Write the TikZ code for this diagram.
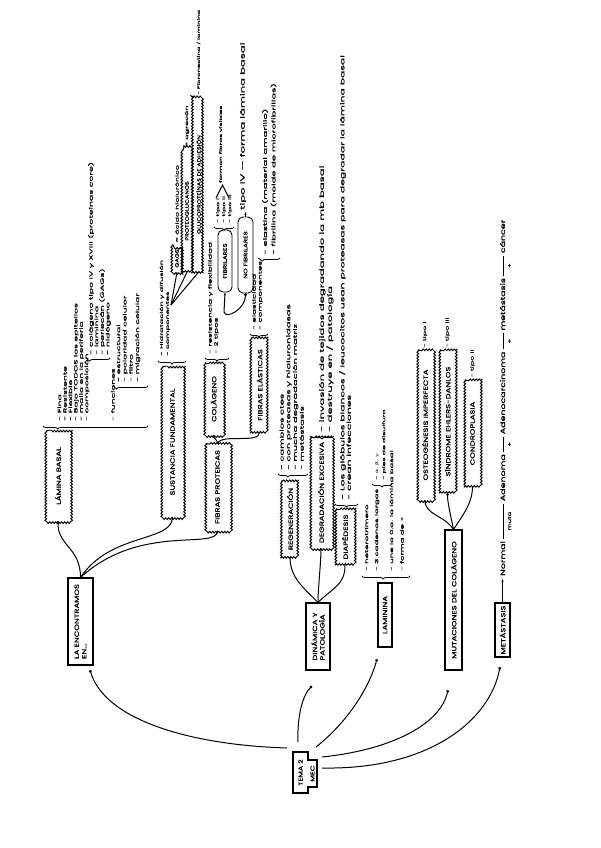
\documentclass[tikz,border=0pt]{standalone}
\usepackage{fontspec}
\setmainfont{Poppins}
\newfontfamily\hand[FakeStretch=2.0,FakeBold=1.2]{Poppins}
\newfontfamily\handb[FakeStretch=1.5,FakeBold=1.2]{Poppins}
\newfontfamily\capsf[FakeStretch=1.4,FakeBold=1.5]{Poppins}
\newfontfamily\grk[FakeStretch=1.6]{DejaVu Sans}
\usetikzlibrary{decorations.pathmorphing,decorations.pathreplacing,arrows.meta,calc}
\newcommand{\lbar}[2]{\ensuremath{\mathop{\rule[0.3em]{#1}{0.6pt}}\limits_{\mbox{\handb\fontsize{4.5}{4.5}\selectfont #2}}}}
\newcommand{\wv}[1]{\draw[wavy] (#1.north east) rectangle (#1.south west);}
\newcommand{\fs}[2]{\hand\fontsize{#1}{#2}\selectfont}
\begin{document}
\begin{tikzpicture}[x=1pt,y=-1pt,
  every node/.style={inner sep=0pt},
  txt/.style={rotate=90, anchor=north west, align=left, inner sep=0pt, font=\fs{4.6}{5.4}},
  cld/.style={rotate=90, inner sep=1pt, align=center, font=\capsf\fontsize{6}{6.5}\selectfont},
  smallcld/.style={cld, font=\capsf\fontsize{4.6}{5}\selectfont},
  wavy/.style={line width=0.9pt, decorate, decoration={snake, segment length=3pt, amplitude=0.9pt}},
  bx/.style={rotate=90, draw, line width=1.1pt, inner sep=1.5pt, align=left, font=\capsf\fontsize{6}{7.5}\selectfont},
  rbx/.style={rotate=90, draw, line width=0.9pt, rounded corners=5pt, inner sep=1pt, font=\capsf\fontsize{5}{5}\selectfont},
  link/.style={line width=1pt},
  dot/.style={-{Circle[length=2.8pt]}},
  arr/.style={-{Stealth[length=3pt]}},
  brc/.style={decorate, decoration={brace, amplitude=3pt, mirror, aspect=#1}, line width=0.8pt},
  brc/.default=0.5]
\fill[white] (0,0) rectangle (601,848);
\useasboundingbox (0,0) rectangle (601,848);

% ---- central node
\node[rotate=90, font=\capsf\fontsize{5.5}{6}\selectfont] (tema) at (300.5,772.5) {TEMA 2};
\node[rotate=90, font=\capsf\fontsize{5.5}{6}\selectfont] (mec) at (312.5,773.5) {MEC};
\draw[line width=1.1pt] (293,752) -- (308,752) -- (308,760) -- (317,760) -- (317,787) -- (308,787) -- (308,793) -- (293,793) -- cycle;

% ---- main boxes
\node[bx, minimum width=87pt, minimum height=25pt] (LAENC) at (80.5,621.5) {LA ENCONTRAMOS\\EN...};
\node[bx, minimum width=67pt, minimum height=24pt] (DIN) at (318,636.5) {DINÁMICA Y\\PATOLOGÍA};
\node[bx, minimum width=64pt, minimum height=14pt] (LAM) at (385,615) {LAMININA};
\node[bx, minimum width=140pt, minimum height=17pt] (MUT) at (453.5,600) {MUTACIONES DEL COLÁGENO};
\node[bx, minimum width=54pt, minimum height=15pt] (MET) at (502.5,630) {METÁSTASIS};

% ---- connectors from TEMA
\coordinate (s1) at (287,748); \coordinate (e1) at (90,670);
\coordinate (s2) at (298,742); \coordinate (e2) at (312,686);
\coordinate (s3) at (316,747); \coordinate (e3) at (377,659);
\coordinate (s4) at (322,757); \coordinate (e4) at (448,690);
\coordinate (s5) at (322,768); \coordinate (e5) at (500,667);
\draw[link,dot] (s1) .. controls (190,745) and (105,720) .. (e1);
\draw[link,dot] (s2) .. controls (297,715) and (303,695) .. (e2);
\draw[link,dot] (s3) .. controls (350,720) and (370,685) .. (e3);
\draw[link,dot] (s4) .. controls (390,750) and (440,725) .. (e4);
\draw[link,dot] (s5) .. controls (430,770) and (490,720) .. (e5);

% ---- LA ENCONTRAMOS EN branch
\node[cld, minimum width=90pt, minimum height=24pt] (LB) at (58,476) {LÁMINA BASAL}; \wv{LB}
\node[cld, minimum width=150pt, minimum height=21pt] (SF) at (172.5,442) {SUSTANCIA FUNDAMENTAL}; \wv{SF}
\node[cld, minimum width=87pt, minimum height=23pt] (FP) at (217.5,487) {FIBRAS PROTEICAS}; \wv{FP}
\draw[link,dot] (LAENC.east) .. controls +(0,-30) and +(0,25) .. (LB.west);
\draw[link] (LAENC.east) .. controls +(30,-45) and +(0,25) .. (SF.west);
\draw[link] (LAENC.east) .. controls +(60,-55) and +(0,20) .. (FP.west);

% lamina basal list
\draw[brc=0.14] (43,426) -- (148,426);
\node[txt] (lbl1) at (57.5,421) {- Fina\\- Resistente\\- Flexible\\- Bajo TODOS los epitelios\\- malla en la periferia\\- composición};
\draw[brc=0.15] (86,358) -- (110,358);
\node[txt, font=\fs{4.7}{5.6}] (lbl2) at (88,355) {- colágeno tipo IV y XVIII (proteínas core)\\- laminina\\- perlecán (GAGs)\\- nidógeno};
\node[txt] (lbl3) at (111,421) {- funciones};
\draw[brc=0.1] (113,386) -- (148,386);
\node[txt, font=\fs{4.6}{6.3}] (lbl4) at (116.5,382) {- estructural\\- polaridad celular\\- filtro\\- migración celular};

% sustancia fundamental
\draw[brc] (158,361) -- (186,361);
\node[txt, font=\fs{4.1}{6}] (sfl) at (159.5,356) {- Hidratación y difusión\\- componentes};
\node[smallcld, minimum width=27pt, minimum height=10pt] (GAG) at (177,258.5) {GAGS}; \wv{GAG}
\node[smallcld, minimum width=122pt, minimum height=10pt] (PRO) at (187,211) {PROTEOGLUCANOS}; \wv{PRO}
\node[smallcld, minimum width=175pt, minimum height=12pt] (GLU) at (198.5,184.5) {GLUCOPROTEÍNAS DE ADHESIÓN}; \wv{GLU}
\coordinate (sfc) at (171,305);
\draw[link] (sfc) -- (GAG.west);
\draw[link] (sfc) -- (PRO.west);
\draw[link] (sfc) -- (GLU.west);
\node[txt, anchor=west, font=\fs{4}{5}] (gagt) at ($(GAG.east)+(0,-2)$) {= ácido hialurónico};
\node[txt, anchor=west, font=\fs{4}{5}] (prot) at ($(PRO.east)+(0,-2)$) {= agrecán};
\node[txt, anchor=west, font=\fs{3.4}{4}] (glut) at ($(GLU.east)+(0,-2)$) {- Fibronectina / laminina};

% fibras proteicas
\node[cld, minimum width=72pt, minimum height=17pt] (COL) at (213.5,399) {COLÁGENO}; \wv{COL}
\node[cld, minimum width=94pt, minimum height=17pt] (FE) at (259.5,385) {FIBRAS ELÁSTICAS}; \wv{FE}
\draw[link] (FP.east) .. controls +(0,-4) and +(0,4) .. (COL.west);
\draw[link] (FP.east) .. controls +(5,-10) and +(0,12) .. (FE.west);

% colageno
\draw[brc] (205,358) -- (229,358);
\node[txt, font=\fs{4.4}{6}] (coll) at (208,354) {- resistencia y flexibilidad\\- 2 tipos};
\node[rbx, minimum width=62pt, minimum height=14pt] (FIB) at (225,261) {FIBRILARES};
\node[rbx, minimum width=76pt, minimum height=15pt] (NOFIB) at (245.5,255) {NO FIBRILARES};
\coordinate (c2) at (224,312);
\draw[link,arr] (c2) -- (FIB.west);
\draw[link,dot] (c2) .. controls +(2,8) and +(0,15) .. (NOFIB.west);
\draw[brc] (214,227) -- (234,227);
\node[txt, font=\fs{3.8}{6}] (fibl) at (216,223) {- tipo I\\- tipo II\\- tipo III};
\coordinate (v1) at (216,198); \coordinate (v2) at (222.5,185); \coordinate (v3) at (229,198);
\draw[link] (v1) -- (v2) -- (v3);
\node[txt, font=\fs{3.6}{5}] (fibv) at (219,183) {forman fibras visibles};
\coordinate (nf1) at (245.5,212);
\draw[link,arr] (NOFIB.east) -- (nf1);
\node[txt, anchor=west, font=\fs{5.8}{6}] (nfl) at (243,210) {tipo IV — forma lámina basal};

% fibras elasticas
\draw[brc] (250,334) -- (268,334);
\node[txt, font=\fs{4.4}{6}] (fel) at (252,330) {- elasticidad\\- componentes};
\draw[brc=0.2] (258,258) -- (280,258);
\node[txt, font=\fs{5}{8.5}] (fel2) at (262,255) {- elastina (material amarillo)\\- fibrilina (molde de microfibrillas)};

% ---- dinamica y patologia
\node[cld, minimum width=76pt, minimum height=17pt] (REG) at (290,519) {REGENERACIÓN}; \wv{REG}
\node[cld, minimum width=111pt, minimum height=20pt] (DEG) at (321,492.5) {DEGRADACIÓN EXCESIVA}; \wv{DEG}
\node[cld, minimum width=56pt, minimum height=18pt] (DIA) at (345,537) {DIAPÉDESIS}; \wv{DIA}
\draw[link] (DIN.east) .. controls +(-15,-15) and +(0,20) .. (REG.west);
\draw[link] (DIN.east) .. controls +(0,-15) and +(0,15) .. (DEG.west);
\draw[link] (DIN.east) .. controls +(15,-15) and +(0,20) .. (DIA.west);
\draw[brc=0.33] (278,474) -- (308,474);
\node[txt, font=\fs{5}{6.7}] (regl) at (279.5,470) {- cambios ctes\\- con proteasas y hialuronidasas\\- mucha degradación matriz\\- metástasis};
\draw[brc] (310,436) -- (334,436);
\node[txt, font=\fs{5.8}{6.5}] (degl) at (319,432) {- invasión de tejidos degradando la mb basal\\- destruye en / patología};
\draw[brc] (335,504) -- (358,504);
\node[txt, font=\fs{5.4}{6.5}] (dial) at (339,500) {- Los glóbulos blancos / leucocitos usan proteasas para degradar la lámina basal\\- crean infecciones};

% ---- laminina
\draw[brc=0.44] (362,576) -- (410,576);
\node[txt, font=\fs{4.3}{10}] (laml) at (364.5,571) {- heterotrímero\\- 3 cadenas largas};
\node[txt, font=\fs{4.3}{10.5}] (laml3) at (389.5,571) {- une la 0.a. la lámina basal\\- forma de +};
\draw[brc] (372,484) -- (392,484);
\node[txt, font=\fs{3.9}{7}] (laml2) at (375,480) {- {\grk α, β, γ}\\- pies de disulfuro};

% ---- mutaciones
\node[cld, minimum width=150pt, minimum height=14pt] (OST) at (425,425) {OSTEOGÉNESIS IMPERFECTA}; \wv{OST}
\node[cld, minimum width=143pt, minimum height=15pt] (EHL) at (447.5,421.5) {SÍNDROME EHLERS-DANLOS}; \wv{EHL}
\node[cld, minimum width=107pt, minimum height=15pt] (CON) at (472.5,433.5) {CONDROPLASIA}; \wv{CON}
\draw[link] (MUT.east) .. controls +(-10,-15) and +(0,15) .. (OST.west);
\draw[link,dot] (MUT.east) .. controls +(-2,-10) and +(0,10) .. (EHL.west);
\draw[link] (MUT.east) .. controls +(10,-15) and +(0,15) .. (CON.west);
\node[txt, anchor=west, font=\fs{4}{5}] (ostt) at ($(OST.east)+(0,-2)$) {- tipo I};
\node[txt, anchor=west, font=\fs{4}{5}] (ehlt) at ($(EHL.east)+(0,-2)$) {- tipo III};
\node[txt, anchor=west, font=\fs{4}{5}] (cont) at ($(CON.east)+(0,-2)$) {- tipo II};

% ---- metastasis
\coordinate (m1) at (502.5,579);
\draw[link,arr] (MET.east) -- (m1);
\node[rotate=90, anchor=base west, font=\handb\fontsize{6.3}{7}\selectfont] (chain) at (505,576) {Normal \lbar{35pt}{muta} Adenoma \lbar{15pt}{+} Adenocarcinoma \lbar{16pt}{+} metástasis \lbar{20pt}{+} cáncer};
\end{tikzpicture}
\end{document}
